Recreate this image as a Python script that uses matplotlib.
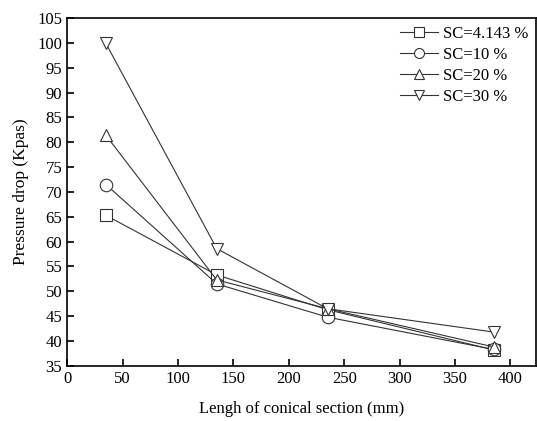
import matplotlib
matplotlib.use('Agg')
import matplotlib.pyplot as plt

plt.rcParams['font.family'] = ['Liberation Serif', 'DejaVu Serif']

length_mm = [35, 135, 235, 385]
sc_labels = ['SC=4.143 %', 'SC=10 %', 'SC=20 %', 'SC=30 %']
sc_4143 = [65.3, 53.3, 46.3, 38.2]
sc_10 = [71.5, 51.5, 44.8, 38.3]
sc_20 = [81.4, 52.3, 46.5, 38.8]
sc_30 = [99.9, 58.6, 46.5, 41.8]
x_ticks = [0, 50, 100, 150, 200, 250, 300, 350, 400]
y_ticks = [35, 40, 45, 50, 55, 60, 65, 70, 75, 80, 85, 90, 95, 100, 105]

fig = plt.figure(figsize=(5.37, 4.21), dpi=100)
ax = fig.add_axes([0.125, 0.131, 0.873, 0.826])

series = [sc_4143, sc_10, sc_20, sc_30]
markers = ['s', 'o', '^', 'v']
for vals, mk, lab in zip(series, markers, sc_labels):
    ax.plot(length_mm, vals, color='#333333', linewidth=0.8, marker=mk,
            markersize=9, markerfacecolor='white', markeredgecolor='#333333',
            markeredgewidth=0.8, label=lab)

ax.set_xlim(0, 423)
ax.set_ylim(35, 105)
ax.set_xticks(x_ticks)
ax.set_yticks(y_ticks)
ax.tick_params(direction='in', length=5, width=1.2, labelsize=12)
for sp in ax.spines.values():
    sp.set_linewidth(1.2)

ax.set_xlabel('Lengh of conical section (mm)', fontsize=12, labelpad=10)
ax.set_ylabel('Pressure drop (Kpas)', fontsize=12.5, labelpad=6)

ax.legend(loc='upper right', frameon=False, fontsize=12, handlelength=2.3,
          handletextpad=0.3, labelspacing=0.3, borderaxespad=0.05,
          markerscale=0.8)

fig.savefig('out.png', dpi=100)
